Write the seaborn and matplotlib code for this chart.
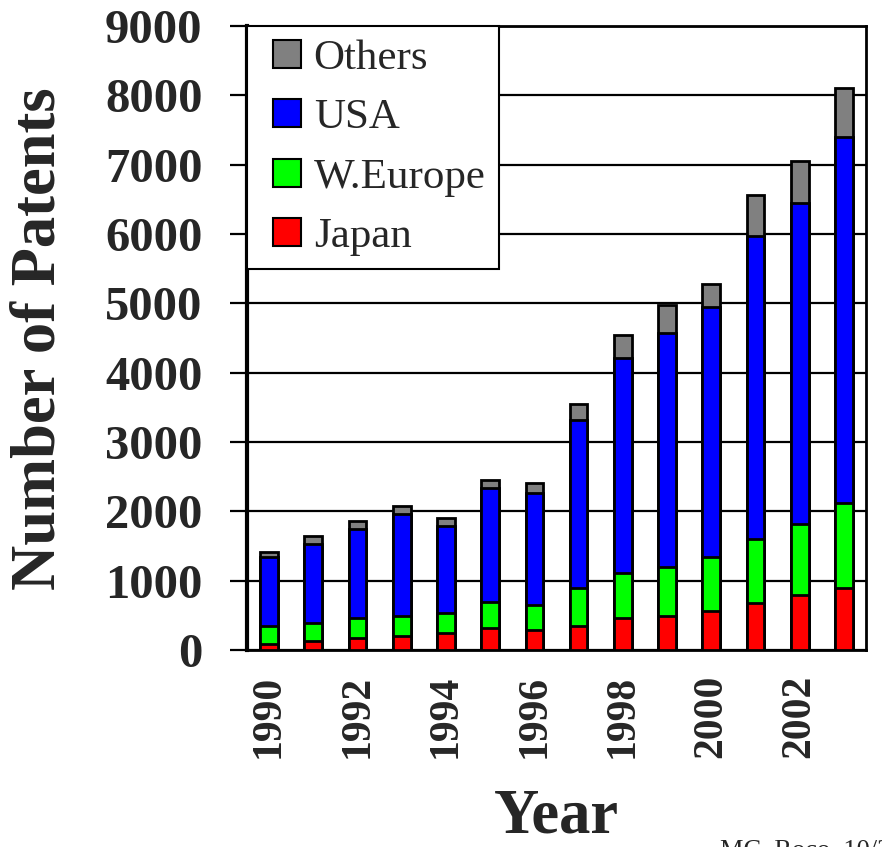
import matplotlib
matplotlib.use("Agg")
import matplotlib.pyplot as plt
from matplotlib.lines import Line2D
import numpy as np
import pandas as pd
import seaborn as sns

# Patents per year, split by region of origin
years = ["1990", "1991", "1992", "1993", "1994", "1995", "1996",
         "1997", "1998", "1999", "2000", "2001", "2002", "2003"]
japan = [90, 130, 178, 206, 245, 317, 283, 348, 460, 492, 562, 680, 787, 893]
w_europe = [260, 260, 288, 289, 289, 370, 366, 545, 648, 701, 781, 914, 1027, 1220]
usa = [985, 1135, 1274, 1471, 1255, 1645, 1611, 2430, 3103, 3376, 3606, 4382, 4633, 5292]
others = [85, 120, 126, 117, 116, 121, 154, 224, 332, 407, 332, 584, 600, 701]

series_names = ["Japan", "W.Europe", "USA", "Others"]
series_colors = ["#ff0000", "#00ff00", "#0000ff", "#808080"]
y_ticks = [0, 1000, 2000, 3000, 4000, 5000, 6000, 7000, 8000, 9000]

sns.set_style("ticks")
plt.rcParams["font.family"] = ["Liberation Serif", "DejaVu Serif"]

df = pd.DataFrame({"year": years, "Japan": japan, "W.Europe": w_europe,
                   "USA": usa, "Others": others})
# cumulative heights so that each stacked layer can be drawn from zero
cum = df[series_names].cumsum(axis=1)

fig = plt.figure(figsize=(8.82, 8.47), dpi=100)
ax = fig.add_axes([247 / 882, 1 - 650 / 847, 619 / 882, 624 / 847])

# draw tallest layer first, smaller cumulative layers on top
for name, color in reversed(list(zip(series_names, series_colors))):
    sns.barplot(x=df["year"], y=cum[name], color=color, saturation=1,
                width=0.4, edgecolor="black", linewidth=2.0,
                errorbar=None, ax=ax, zorder=3)

ax.set_ylim(0, 9000)
ax.set_xlim(-0.5, len(years) - 0.5)
ax.set_yticks(y_ticks)
ax.set_yticklabels([str(v) for v in y_ticks], fontsize=35, fontweight="bold")
ax.set_xticks(np.arange(0, len(years), 2))
ax.set_xticklabels(years[::2], rotation=90, fontsize=30, fontweight="bold")
ax.tick_params(axis="y", length=12, width=1.6, pad=20, color="black")
ax.tick_params(axis="x", length=0, pad=18)
ax.set_xlabel("")
ax.set_ylabel("")

ax.set_axisbelow(True)
ax.yaxis.grid(True, color="black", linewidth=1.6)
for side in ["top", "right", "bottom"]:
    ax.spines[side].set_visible(True)
    ax.spines[side].set_linewidth(2.0)
    ax.spines[side].set_color("black")
ax.spines["left"].set_linewidth(3.0)
ax.spines["left"].set_color("black")

# square swatches, listed top-down in stacking order
handles = [Line2D([], [], linestyle="None", marker="s", markersize=19.5,
                  markerfacecolor=c, markeredgecolor="black",
                  markeredgewidth=1.5, label=n)
           for n, c in zip(series_names, series_colors)][::-1]
leg = ax.legend(handles=handles, loc="upper left", bbox_to_anchor=(0, 1),
                borderaxespad=0, fontsize=31, frameon=True, fancybox=False,
                handlelength=1.25, handleheight=0.7, handletextpad=0.0,
                labelspacing=0.47, borderpad=0.3)
leg.get_frame().set_edgecolor("black")
leg.get_frame().set_linewidth(1.5)
leg.get_frame().set_alpha(1)
leg.set_zorder(5)

fig.text(55 / 882, 1 - 339 / 847, "Number of Patents", rotation=90,
         rotation_mode="anchor", ha="center", va="baseline",
         fontsize=45, fontweight="bold")
fig.text(556 / 882, 1 - 846 / 847, "Year", ha="center", va="bottom",
         fontsize=45, fontweight="bold")
fig.text(720 / 882, 1 - 856 / 847, "MC. Roco, 10/2003", ha="left",
         va="baseline", fontsize=19)

fig.savefig("out.png", dpi=100)
